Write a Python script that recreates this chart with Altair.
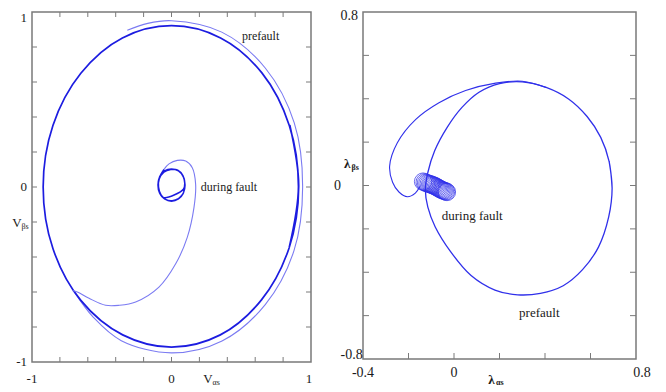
import altair as alt
import pandas as pd

# ---------------- Left panel: stator voltage trajectory (V_alpha_s, V_beta_s) ----------------
v_pre_a = [0.843, 0.910, 0.845, 0.648, 0.352, 0.000, -0.352, -0.650, -0.850, -0.920,
           -0.850, -0.650, -0.350, 0.000, 0.350, 0.645, 0.843, 0.912, 0.848]
v_pre_b = [-0.348, 0.000, 0.350, 0.652, 0.852, 0.922, 0.852, 0.650, 0.352, 0.000,
           -0.352, -0.648, -0.845, -0.915, -0.845, -0.645, -0.348, 0.004, 0.354]
v_out_a = [-0.698, -0.560, -0.360, 0.000, 0.362, 0.672, 0.878, 0.940, 0.880, 0.672,
           0.360, 0.000, -0.170, -0.317]
v_out_b = [-0.598, -0.745, -0.878, -0.948, -0.880, -0.672, -0.364, 0.000, 0.366, 0.680,
           0.885, 0.950, 0.935, 0.896]
v_sp_a = [-0.711, -0.675, -0.591, -0.472, -0.376, -0.257, -0.090, 0.030, 0.113, 0.161,
          0.173, 0.149, 0.102, 0.042, -0.018, -0.054]
v_sp_b = [-0.591, -0.600, -0.636, -0.676, -0.676, -0.657, -0.572, -0.439, -0.288, -0.118,
          0.015, 0.110, 0.148, 0.152, 0.132, 0.101]
v_in_a = [-0.054, -0.085, -0.097, -0.085, -0.050, 0.000, 0.050, 0.085, 0.097, 0.085,
          0.050, 0.000, -0.050, -0.085, -0.097, -0.085, -0.054,
          0.085, 0.095, 0.082, 0.045, -0.005, -0.055, -0.088, -0.093, -0.075, -0.040,
          0.005, 0.050, 0.082]
v_in_b = [0.101, 0.058, 0.011, -0.035, -0.068, -0.081, -0.068, -0.035, 0.011, 0.058,
          0.092, 0.103, 0.092, 0.058, 0.011, -0.035, -0.061,
          -0.013, 0.022, 0.065, 0.096, 0.100, 0.085, 0.045, 0.000, -0.045, -0.072,
          -0.078, -0.066, -0.040]

# ---------------- Right panel: stator flux trajectory (lambda_alpha_s, lambda_beta_s) ----------------
l_pre_a = [0.695, 0.682, 0.645, 0.585, 0.505, 0.405, 0.300, 0.200, 0.110, 0.035, -0.030,
           -0.085, -0.115, -0.126, -0.115, -0.083, -0.015, 0.075, 0.180, 0.280, 0.380,
           0.480, 0.565, 0.635, 0.680, 0.695, 0.682]
l_pre_b = [-0.013, 0.110, 0.222, 0.318, 0.398, 0.452, 0.478, 0.470, 0.430, 0.360, 0.268,
           0.160, 0.060, -0.020, -0.100, -0.190, -0.305, -0.415, -0.482, -0.504, -0.497,
           -0.462, -0.388, -0.284, -0.145, -0.013, 0.110]
l_lobe_a = [0.405, 0.300, 0.183, 0.051, -0.066, -0.168, -0.249, -0.283, -0.270, -0.242,
            -0.205, -0.170, -0.150]
l_lobe_b = [0.452, 0.481, 0.472, 0.438, 0.382, 0.305, 0.197, 0.089, 0.015, -0.030,
            -0.052, -0.035, -0.005]
l_loop_a = [-0.136, -0.129, -0.123, -0.117, -0.111, -0.105, -0.100, -0.095, -0.090, -0.085,
            -0.080, -0.075, -0.070, -0.065, -0.060, -0.055, -0.050, -0.045, -0.040, -0.035,
            -0.031]
l_loop_b = [0.018, 0.015, 0.012, 0.010, 0.008, 0.006, 0.004, 0.002, 0.000, -0.002,
            -0.005, -0.008, -0.011, -0.014, -0.017, -0.020, -0.022, -0.024, -0.026, -0.028,
            -0.030]

# annotations
left_notes = ["prefault", "during fault"]
left_notes_a = [0.505, 0.210]
left_notes_b = [0.864, 0.000]
right_notes = ["during fault", "prefault"]
right_notes_a = [-0.054, 0.286]
right_notes_b = [-0.142, -0.589]

# tick marks and tick labels
left_ticks = [-0.8, -0.6, -0.4, -0.2, 0, 0.2, 0.4, 0.6, 0.8]
left_label_vals = [-1, 0, 1]
left_label_text = ["-1", "0", "1"]
right_x_ticks = [-0.2, 0, 0.2, 0.4, 0.6]
right_y_ticks = [-0.6, -0.4, -0.2, 0, 0.2, 0.4, 0.6]
right_x_label_vals = [-0.4, 0, 0.8]
right_x_label_text = ["-0.4", "0", "0.8"]
right_y_label_vals = [-0.8, 0, 0.8]
right_y_label_text = ["-0.8", "0", "0.8"]

SERIF = "Liberation Serif"
TXT = "#1a1a1a"
FRAME = "#7a7a7a"
DARK = "#1c1ce0"
LIGHT = "#7b7bf2"
MID = "#3030ea"
W1, H1 = 279, 350
W2, H2 = 273, 347


def seq(a, b):
    return pd.DataFrame({"a": a, "b": b, "i": list(range(len(a)))})


def line(df, xs, ys, color, width):
    return alt.Chart(df).mark_line(interpolate="catmull-rom", color=color,
                                   strokeWidth=width).encode(
        x=alt.X("a:Q", scale=xs, axis=None),
        y=alt.Y("b:Q", scale=ys, axis=None),
        order="i:Q")


def ticks(xs, ys, xt, yt, W, H, L, top=True):
    tx = pd.DataFrame({"t": xt})
    ty = pd.DataFrame({"t": yt})
    out = [
        alt.Chart(tx).mark_rule(color=FRAME, strokeWidth=1).encode(
            x=alt.X("t:Q", scale=xs, axis=None), y=alt.value(H), y2=alt.value(H - L)),
        alt.Chart(ty).mark_rule(color=FRAME, strokeWidth=1).encode(
            y=alt.Y("t:Q", scale=ys, axis=None), x=alt.value(0), x2=alt.value(L)),
        alt.Chart(ty).mark_rule(color=FRAME, strokeWidth=1).encode(
            y=alt.Y("t:Q", scale=ys, axis=None), x=alt.value(W - L), x2=alt.value(W)),
    ]
    if top:
        out.append(alt.Chart(tx).mark_rule(color=FRAME, strokeWidth=1).encode(
            x=alt.X("t:Q", scale=xs, axis=None), y=alt.value(0), y2=alt.value(L)))
    return out


def tick_label(scale, val, txt, axis, pos, size, align="center", baseline="middle",
               dx=0, dy=0):
    df = pd.DataFrame({"v": [val], "s": [txt]})
    mk = alt.Chart(df).mark_text(font=SERIF, fontSize=size, color=TXT, align=align,
                                 baseline=baseline, dx=dx, dy=dy)
    if axis == "x":
        return mk.encode(x=alt.X("v:Q", scale=scale, axis=None), y=alt.value(pos),
                         text="s:N")
    return mk.encode(y=alt.Y("v:Q", scale=scale, axis=None), x=alt.value(pos),
                     text="s:N")


def label_text(s, x, y, size, bold=False, align="center"):
    return alt.Chart(pd.DataFrame({"t": [s]})).mark_text(
        font=SERIF, fontSize=size, color=TXT, align=align, baseline="middle",
        fontWeight="bold" if bold else "normal").encode(
        x=alt.value(x), y=alt.value(y), text="t:N")


# ---------------- left chart ----------------
xs1 = alt.Scale(domain=[-1, 1], nice=False, zero=False)
ys1 = alt.Scale(domain=[-1, 1], nice=False, zero=False)

left_tick_labels = [
    tick_label(xs1, left_label_vals[0], left_label_text[0], "x", H1 + 17, 13),
    tick_label(xs1, left_label_vals[1], left_label_text[1], "x", H1 + 17, 13),
    tick_label(xs1, left_label_vals[2], left_label_text[2], "x", H1 + 17, 13, dx=-2),
    tick_label(ys1, left_label_vals[0], left_label_text[0], "y", -5, 13, align="right"),
    tick_label(ys1, left_label_vals[1], left_label_text[1], "y", -5, 13, align="right"),
    tick_label(ys1, left_label_vals[2], left_label_text[2], "y", -5, 13, align="right",
               baseline="top"),
]

notes1 = pd.DataFrame({"a": left_notes_a, "b": left_notes_b, "t": left_notes})
left = alt.layer(
    line(seq(v_out_a, v_out_b), xs1, ys1, LIGHT, 1.1),
    line(seq(v_pre_a, v_pre_b), xs1, ys1, DARK, 1.7),
    line(seq(v_sp_a, v_sp_b), xs1, ys1, LIGHT, 1.1),
    line(seq(v_in_a, v_in_b), xs1, ys1, DARK, 1.5),
    *ticks(xs1, ys1, left_ticks, left_ticks, W1, H1, 5, top=True),
    *left_tick_labels,
    alt.Chart(notes1).mark_text(font=SERIF, fontSize=12, color=TXT, align="left",
                                baseline="middle").encode(
        x=alt.X("a:Q", scale=xs1, axis=None), y=alt.Y("b:Q", scale=ys1, axis=None),
        text="t:N"),
    label_text("V", -15, H1 * 0.5 + 36, 13),
    label_text("\u03b2s", -10.5, H1 * 0.5 + 39.5, 8, align="left"),
    label_text("V", 176, H1 + 17, 13),
    label_text("\u03b1s", 180.5, H1 + 20.5, 8, align="left"),
).properties(width=W1, height=H1)

# ---------------- right chart ----------------
xs2 = alt.Scale(domain=[-0.4, 0.8], nice=False, zero=False)
ys2 = alt.Scale(domain=[-0.8, 0.8], nice=False, zero=False)

right_tick_labels = [
    tick_label(xs2, right_x_label_vals[0], right_x_label_text[0], "x", H2 + 14, 14),
    tick_label(xs2, right_x_label_vals[1], right_x_label_text[1], "x", H2 + 14, 14),
    tick_label(xs2, right_x_label_vals[2], right_x_label_text[2], "x", H2 + 14, 14, dx=6),
    tick_label(ys2, right_y_label_vals[0], right_y_label_text[0], "y", -22.5, 14,
               align="left", dy=-4),
    tick_label(ys2, right_y_label_vals[1], right_y_label_text[1], "y", -29, 14,
               align="left"),
    tick_label(ys2, right_y_label_vals[2], right_y_label_text[2], "y", -22.5, 14,
               align="left", baseline="top", dy=-3),
]

loops = pd.DataFrame({"a": l_loop_a, "b": l_loop_b})
notes2 = pd.DataFrame({"a": right_notes_a, "b": right_notes_b, "t": right_notes})
right = alt.layer(
    line(seq(l_pre_a, l_pre_b), xs2, ys2, MID, 1.3),
    line(seq(l_lobe_a, l_lobe_b), xs2, ys2, MID, 1.1),
    alt.Chart(loops).mark_point(shape="circle", filled=False, size=300, color=MID,
                                strokeWidth=0.8, opacity=0.9).encode(
        x=alt.X("a:Q", scale=xs2, axis=None), y=alt.Y("b:Q", scale=ys2, axis=None)),
    *ticks(xs2, ys2, right_x_ticks, right_y_ticks, W2, H2, 6, top=False),
    *right_tick_labels,
    alt.Chart(notes2).mark_text(font=SERIF, fontSize=13, color=TXT, align="left",
                                baseline="middle").encode(
        x=alt.X("a:Q", scale=xs2, axis=None), y=alt.Y("b:Q", scale=ys2, axis=None),
        text="t:N"),
    label_text("\u03bb", -15.7, 152, 13, bold=True),
    label_text("\u03b2s", -11.5, 155.5, 8, bold=True, align="left"),
    label_text("\u03bb", 128.5, H2 + 21, 13, bold=True),
    label_text("\u03b1s", 133, H2 + 24.3, 8, bold=True, align="left"),
).properties(width=W2, height=H2)

chart = alt.hconcat(left, right, spacing=52, bounds="flush").properties(
    padding={"left": 3, "top": 0, "right": 0, "bottom": 0}
).configure_view(stroke=FRAME, strokeWidth=1.5)

chart.save("out.html", embed_options={"renderer": "svg", "actions": False})
